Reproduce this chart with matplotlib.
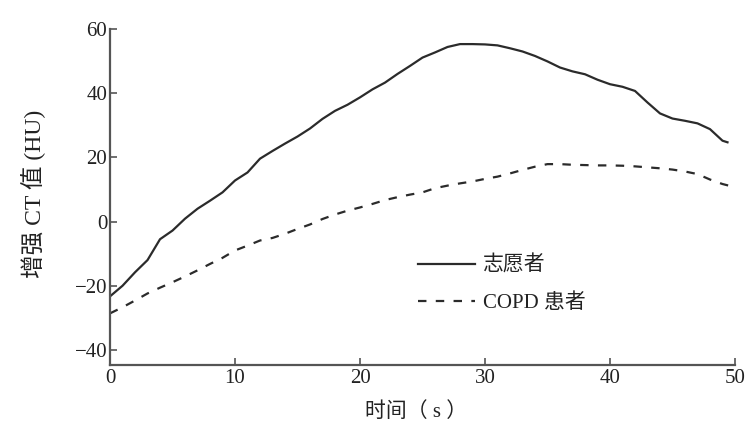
import numpy as np
import matplotlib
matplotlib.use('Agg')
import matplotlib.pyplot as plt

plt.rcParams['font.family'] = ['Liberation Serif', 'Noto Sans CJK SC', 'DejaVu Sans']

# time axis (s)
t = list(range(0, 51))

# volunteers (solid)
volunteer = [-23.3, -20.0, -15.8, -12.0, -5.5, -2.8, 0.9, 4.0, 6.5, 9.1,
             12.8, 15.3, 19.6, 22.0, 24.3, 26.5, 29.0, 32.0, 34.5, 36.4,
             38.7, 41.2, 43.3, 46.0, 48.5, 51.1, 52.7, 54.4, 55.3, 55.3,
             55.2, 54.9, 54.0, 53.0, 51.6, 49.9, 48.0, 46.8, 45.9, 44.2,
             42.8, 42.0, 40.7, 37.1, 33.7, 32.1, 31.4, 30.6, 28.8, 25.2,
             None]
# COPD patients (dashed)
copd = [-28.6, -26.7, -24.6, -22.4, -20.6, -18.9, -17.1, -15.2, -13.2, -11.3,
        -9.0, -7.5, -5.9, -5.1, -3.8, -2.3, -0.9, 0.8, 2.2, 3.4,
        4.4, 5.5, 6.7, 7.6, 8.4, 9.1, 10.4, 11.2, 11.9, 12.5,
        13.3, 14.0, 15.0, 16.1, 17.1, 17.9, 17.9, 17.7, 17.6, 17.5,
        17.5, 17.4, 17.2, 16.9, 16.6, 16.2, 15.6, 14.8, 13.1, 11.7,
        10.7]

xticks = [0, 10, 20, 30, 40, 50]
yticks = [-40, -20, 0, 20, 40, 60]

t_vol = [x for x, v in zip(t, volunteer) if v is not None]
v_vol = [v for v in volunteer if v is not None]
t_vol.append(49.4)
v_vol.append(24.7)

fig = plt.figure(figsize=(7.49, 4.47), dpi=100)
ax = fig.add_axes([0.1469, 0.1834, 0.8344, 0.7517])

line_col = '#2b2b2b'
ax.plot(t_vol, v_vol, color=line_col, lw=1.6, label='志愿者')
ax.plot(t, copd, color=line_col, lw=1.6, ls=(0, (3.8, 4.2)), label='COPD 患者')

ax.set_xlim(0, 50)
ax.set_ylim(-44.7, 60)
ax.set_xticks(xticks)
ax.set_yticks(yticks)

for s in ['top', 'right']:
    ax.spines[s].set_visible(False)
for s in ['left', 'bottom']:
    ax.spines[s].set_color('#555555')
    ax.spines[s].set_linewidth(1.6)

ax.tick_params(direction='in', length=5, width=1.2, color='#555555',
               labelsize=15, labelcolor='#222222')
ax.tick_params(axis='x', pad=3)
ax.tick_params(axis='y', pad=2)

ax.set_ylabel('增强 CT 值 (HU)', fontsize=17, color='#222222')
ax.yaxis.set_label_coords(-0.103, 0.51)
ax.set_xlabel('时间（ s ）', fontsize=15, color='#222222', va='top')
ax.xaxis.set_label_coords(0.49, -0.112)

leg = ax.legend(loc='upper left', bbox_to_anchor=(0.493, 0.325), frameon=False,
                fontsize=15, handlelength=2.75, handletextpad=0.35,
                labelspacing=0.85, borderpad=0, borderaxespad=0)
for txt in leg.get_texts():
    txt.set_color('#222222')

fig.savefig('out.png', dpi=100)
